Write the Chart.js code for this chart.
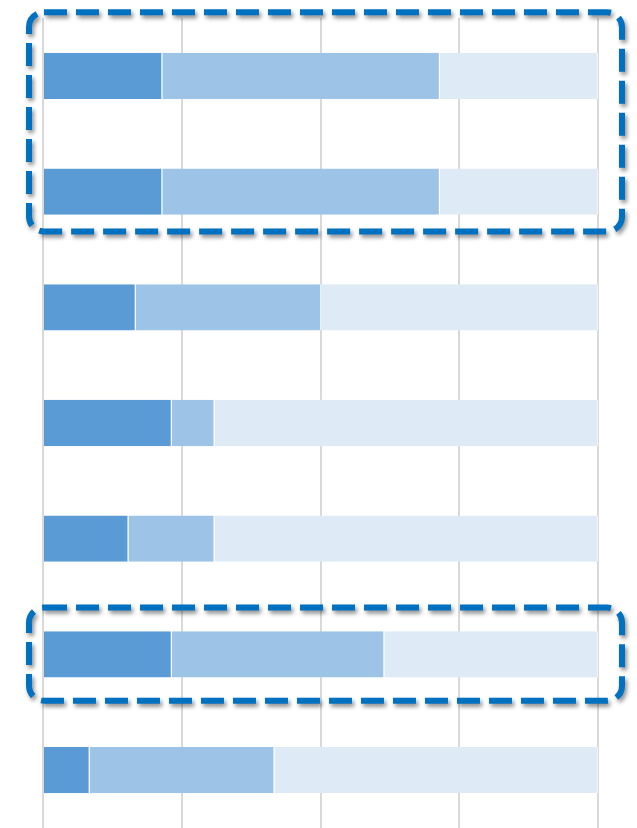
<!DOCTYPE html>
<html>
<head>
<meta charset="utf-8">
<script src="https://cdn.jsdelivr.net/npm/chart.js@4"></script>
<style>
  html, body { margin: 0; padding: 0; background: #fff; }
  #wrap { width: 637px; height: 828px; }
</style>
</head>
<body>
<div id="wrap"><canvas id="bars"></canvas></div>
<script>
const categories = ['1', '2', '3', '4', '5', '6', '7'];
const darkValues = [21.5, 21.5, 16.7, 23.2, 15.4, 23.2, 8.4];
const midValues = [50.0, 50.0, 33.4, 7.7, 15.5, 38.3, 33.3];
const lightValues = [28.5, 28.5, 49.9, 69.1, 69.1, 38.5, 58.3];
const xTicks = [0, 25, 50, 75, 100];

// dashed call-out boxes: [first category, last category]
const highlights = [[0, 1], [5, 5]];

const dashedBoxes = {
  id: 'dashedBoxes',
  afterDraw(chart) {
    const ctx = chart.ctx;
    const y = chart.scales.y;
    const left = chart.chartArea.left - 14;
    const right = chart.chartArea.right + 24;
    const band = y.getPixelForValue(1) - y.getPixelForValue(0);
    ctx.save();
    ctx.strokeStyle = '#0070C0';
    ctx.lineWidth = 6;
    ctx.setLineDash([23, 9]);
    ctx.shadowColor = 'rgba(0,0,0,0.45)';
    ctx.shadowBlur = 4;
    ctx.shadowOffsetX = 2;
    ctx.shadowOffsetY = 3;
    highlights.forEach(([a, b]) => {
      let top, bottom;
      if (a === b) {
        top = y.getPixelForValue(a) - band * 0.405;
        bottom = y.getPixelForValue(b) + band * 0.40;
      } else {
        top = y.getPixelForValue(a) - band * 0.55;
        bottom = y.getPixelForValue(b) + band * 0.345;
      }
      ctx.beginPath();
      ctx.roundRect(left, top, right - left, bottom - top, 15);
      ctx.stroke();
    });
    ctx.restore();
  }
};

const ctx = document.getElementById('bars');

new Chart(ctx, {
  type: 'bar',
  data: {
    labels: categories,
    datasets: [
      { data: darkValues, backgroundColor: '#5B9BD5' },
      { data: midValues, backgroundColor: '#9DC3E6' },
      { data: lightValues, backgroundColor: '#DEEBF7' }
    ].map(d => Object.assign(d, {
      borderColor: 'rgba(255,255,255,0.7)',
      borderWidth: { right: 1 },
      borderSkipped: false,
      barPercentage: 0.8,
      categoryPercentage: 0.5
    }))
  },
  options: {
    indexAxis: 'y',
    responsive: true,
    maintainAspectRatio: false,
    animation: false,
    layout: {
      padding: { left: 43, right: 39, top: 18, bottom: 0 }
    },
    scales: {
      x: {
        stacked: true,
        min: 0,
        max: 100,
        afterBuildTicks: (axis) => {
          axis.ticks = xTicks.map(v => ({ value: v }));
        },
        ticks: { display: false },
        grid: { color: '#D9D9D9', lineWidth: 2, drawTicks: false },
        border: { display: false }
      },
      y: {
        stacked: true,
        display: false
      }
    },
    plugins: {
      legend: { display: false },
      tooltip: { enabled: false }
    }
  },
  plugins: [dashedBoxes]
});
</script>
</body>
</html>
